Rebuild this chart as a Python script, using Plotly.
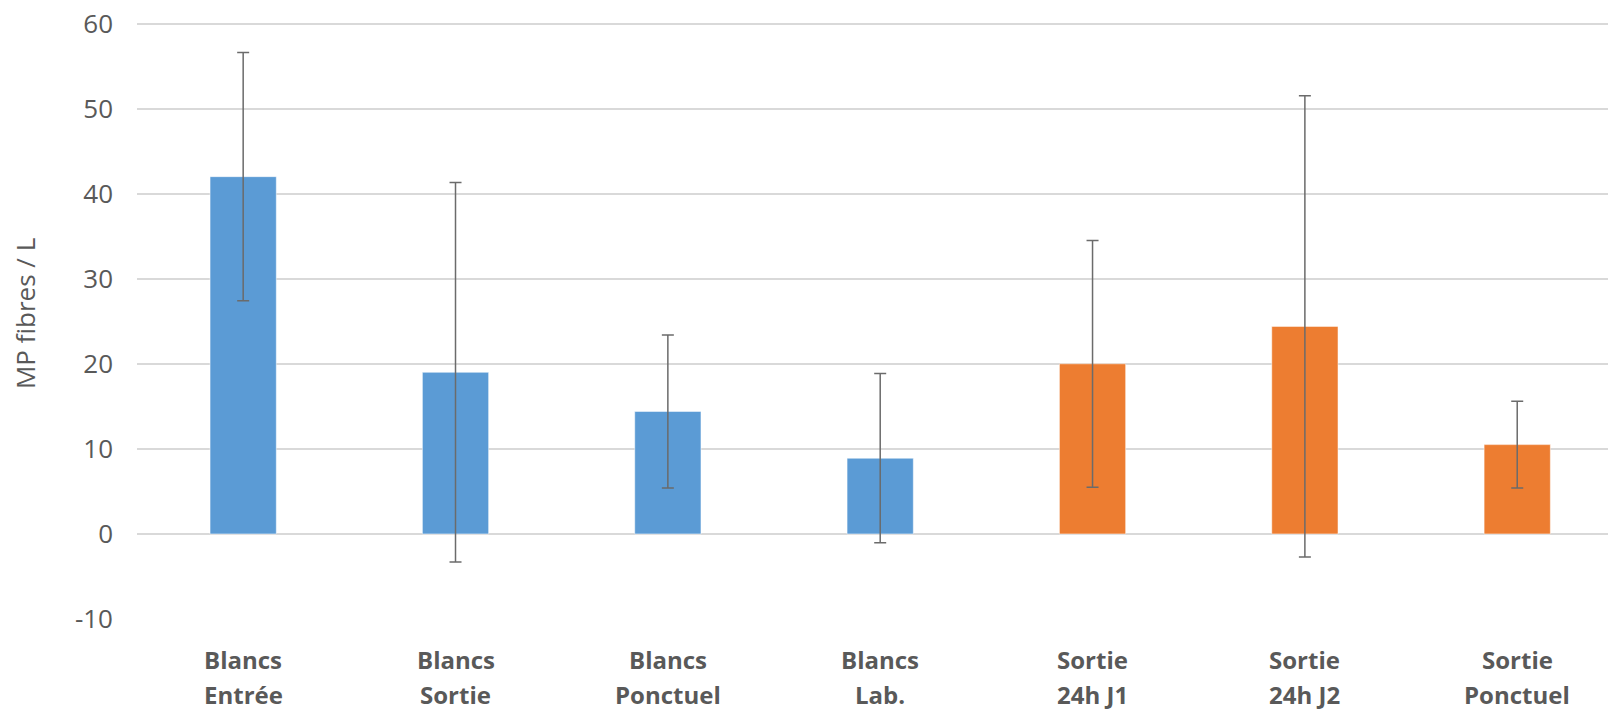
import plotly.graph_objects as go

categories = ["Blancs<br>Entrée", "Blancs<br>Sortie", "Blancs<br>Ponctuel", "Blancs<br>Lab.",
              "Sortie<br>24h J1", "Sortie<br>24h J2", "Sortie<br>Ponctuel"]
blancs_cats = categories[:4]
blancs_vals = [42.0, 19.0, 14.4, 8.9]
blancs_err = [14.6, 22.3, 9.0, 9.95]
sortie_cats = categories[4:]
sortie_vals = [20.0, 24.4, 10.5]
sortie_err = [14.5, 27.1, 5.1]
y_ticks = [-10, 0, 10, 20, 30, 40, 50, 60]
y_ticktext = ["-10", "0", "10", "20", "30", "40", "50", "60"]

ERR = dict(type="data", visible=True, color="#6b6b6b", thickness=1.5, width=6)
TXT = "#595959"

fig = go.Figure()
fig.add_trace(go.Bar(x=blancs_cats, y=blancs_vals, error_y=dict(array=blancs_err, **ERR),
                     marker=dict(color="#5B9BD5", line=dict(color="rgba(255,255,255,0.5)", width=1)),
                     width=0.312, name="Blancs"))
fig.add_trace(go.Bar(x=sortie_cats, y=sortie_vals, error_y=dict(array=sortie_err, **ERR),
                     marker=dict(color="#ED7D31", line=dict(color="rgba(255,255,255,0.5)", width=1)),
                     width=0.312, name="Sortie"))

annotations = [dict(text="MP fibres / L", textangle=-90, xref="paper", yref="paper",
                    x=0, y=0.51, xshift=-112, xanchor="center", yanchor="middle",
                    showarrow=False, font=dict(size=26, color=TXT))]
for cat in categories:
    line1, line2 = cat.split("<br>")
    for txt, shift in ((line1, -40), (line2, -75)):
        annotations.append(dict(text=txt, xref="x", yref="paper", x=cat, y=0, yshift=shift,
                                xanchor="center", yanchor="middle", showarrow=False, borderpad=0,
                                font=dict(size=24, weight="bold", color=TXT)))

fig.update_layout(
    width=1608, height=710,
    margin=dict(l=137, r=0, t=21, b=91, autoexpand=False),
    paper_bgcolor="white", plot_bgcolor="white",
    barmode="overlay", showlegend=False,
    font=dict(family="Open Sans", color=TXT),
    annotations=annotations,
)
fig.update_xaxes(type="category", categoryorder="array", categoryarray=categories,
                 range=[-0.5, 6.4275], showgrid=False, showline=False, ticks="",
                 showticklabels=False, automargin=False)
fig.update_yaxes(range=[-10, 60.3], tickvals=y_ticks, ticktext=y_ticktext, showgrid=True,
                 gridcolor="#d9d9d9", gridwidth=1.5, automargin=False,
                 zeroline=True, zerolinecolor="#d9d9d9", zerolinewidth=1.5, showline=False,
                 ticks="", ticklabelstandoff=23, ticklabeloverflow="allow",
                 tickfont=dict(size=26, color=TXT))

fig.write_html("out.html", config={"displayModeBar": False},
               post_script="document.body.style.margin='0px';")
